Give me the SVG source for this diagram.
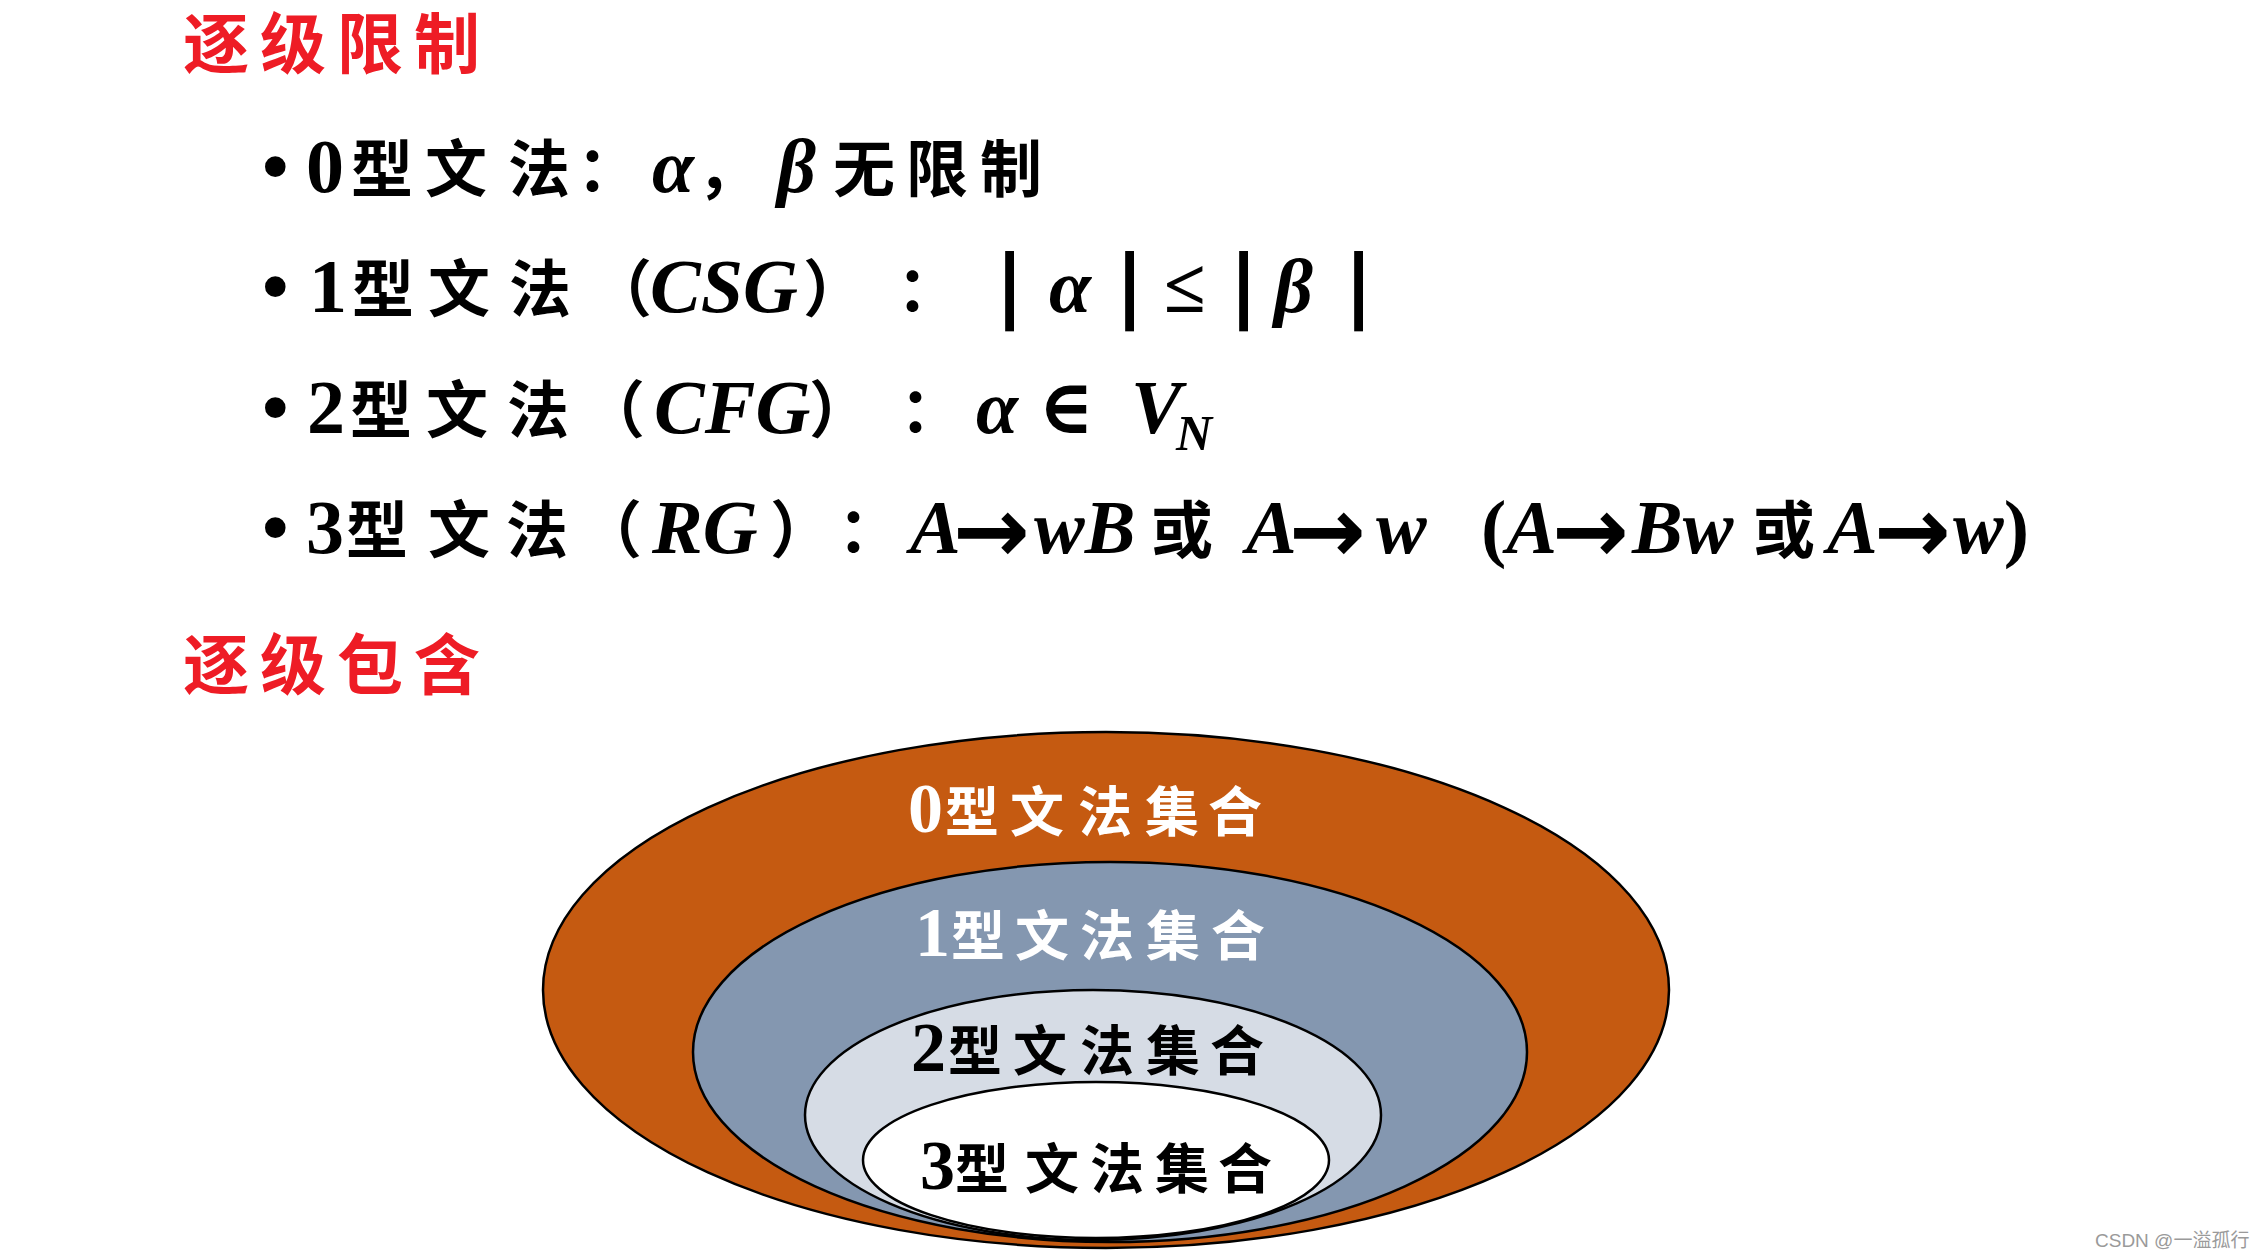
<svg xmlns="http://www.w3.org/2000/svg" width="2262" height="1260" viewBox="0 0 2262 1260">
<style>
.cjk{font-family:"Noto Sans CJK SC","Noto Sans CJK JP",sans-serif;font-weight:700}
.ser{font-family:"Liberation Serif","DejaVu Serif",serif;font-weight:700}
.mi{font-family:"Liberation Serif","DejaVu Serif",serif;font-weight:700;font-style:italic}
.bar{font-family:"DejaVu Sans",sans-serif;font-weight:700;font-size:80px}
.arr{font-family:"DejaVu Sans",sans-serif;font-weight:700;font-size:92px}
.body{font-size:76px;fill:#000}
.body .cjk{font-size:62px}
.title{font-size:66px;fill:#EE1C25}
.set{stroke:#000;stroke-width:2.5}
.lab{font-size:70px}
.lab .cjk{font-size:54px}
.wm{font-family:"Liberation Sans","Noto Sans CJK SC",sans-serif;font-size:19px;fill:#9a9a9a}
</style>
<rect width="2262" height="1260" fill="#fff"/>
<g id="title-restrict">
<text class="title cjk" x="183 260 337 414" y="68">逐级限制</text>
</g>
<g id="rules">
<text id="rule0" class="body" y="192"><tspan class="ser" x="262">•</tspan><tspan class="ser" x="306">0</tspan><tspan class="cjk" x="351 425 508">型文法</tspan><tspan class="cjk" x="577">：</tspan><tspan class="mi" x="652">α</tspan><tspan class="cjk" x="697">，</tspan><tspan class="mi" x="777">β</tspan><tspan class="cjk" x="833 906 980">无限制</tspan></text>
<text id="rule1" class="body" y="312"><tspan class="ser" x="262">•</tspan><tspan class="ser" x="309">1</tspan><tspan class="cjk" x="352 428 509">型文法</tspan><tspan class="cjk" x="590">（</tspan><tspan class="mi" x="650">CSG</tspan><tspan class="cjk" x="803">）</tspan><tspan class="cjk" x="897">：</tspan><tspan class="bar" x="995">|</tspan><tspan class="mi" x="1049">α</tspan><tspan class="bar" x="1115">|</tspan><tspan class="ser" x="1164">≤</tspan><tspan class="bar" x="1229">|</tspan><tspan class="mi" x="1274">β</tspan><tspan class="bar" x="1344">|</tspan></text>
<text id="rule2" class="body" y="433"><tspan class="ser" x="262">•</tspan><tspan class="ser" x="307">2</tspan><tspan class="cjk" x="350 426 507">型文法</tspan><tspan class="cjk" x="583">（</tspan><tspan class="mi" x="654">CFG</tspan><tspan class="cjk" x="809">）</tspan><tspan class="cjk" x="900">：</tspan><tspan class="mi" x="976">α</tspan><tspan class="ser" x="1038">∈</tspan><tspan class="mi" x="1131">V</tspan><tspan class="mi" x="1176" y="450" font-size="50">N</tspan></text>
<text id="rule3" class="body" y="553"><tspan class="ser" x="262">•</tspan><tspan class="ser" x="306">3</tspan><tspan class="cjk" x="346 428 506">型文法</tspan><tspan class="cjk" x="580">（</tspan><tspan class="mi" x="652">RG</tspan><tspan class="cjk" x="770">）</tspan><tspan class="cjk" x="838">：</tspan><tspan class="mi" x="910">A</tspan><tspan class="arr" x="953" y="562">→</tspan><tspan class="mi" x="1034" y="553">wB</tspan><tspan class="cjk" x="1151">或</tspan><tspan class="mi" x="1246">A</tspan><tspan class="arr" x="1289" y="562">→</tspan><tspan class="mi" x="1376" y="553">w</tspan><tspan class="ser" x="1481">(</tspan><tspan class="mi">A</tspan><tspan class="arr" x="1552" y="562">→</tspan><tspan class="mi" x="1632" y="553">Bw</tspan><tspan class="cjk" x="1753">或</tspan><tspan class="mi" x="1827">A</tspan><tspan class="arr" x="1874" y="562">→</tspan><tspan class="mi" x="1953" y="553">w</tspan><tspan class="ser">)</tspan></text>
</g>
<g id="title-contain">
<text class="title cjk" x="183 260 337 414" y="689">逐级包含</text>
</g>
<g id="set0">
<ellipse class="set" cx="1106" cy="990" rx="563" ry="258" fill="#C55A11"/>
<text class="lab" fill="#fff" y="832"><tspan class="ser" x="908">0</tspan><tspan class="cjk" x="945 1010 1078 1145 1208">型文法集合</tspan></text>
</g>
<g id="set1">
<ellipse class="set" cx="1110" cy="1052" rx="417" ry="190" fill="#8497B0"/>
<text class="lab" fill="#fff" y="956"><tspan class="ser" x="915">1</tspan><tspan class="cjk" x="951 1015 1080 1146 1211">型文法集合</tspan></text>
</g>
<g id="set2">
<ellipse class="set" cx="1093" cy="1115" rx="288" ry="125" fill="#D6DCE5"/>
<text class="lab" fill="#000" y="1071"><tspan class="ser" x="911">2</tspan><tspan class="cjk" x="948 1013 1080 1146 1210">型文法集合</tspan></text>
</g>
<g id="set3">
<ellipse class="set" cx="1096" cy="1160" rx="233" ry="78" fill="#FFFFFF"/>
<text class="lab" fill="#000" y="1189"><tspan class="ser" x="920">3</tspan><tspan class="cjk" x="955 1025 1090 1155 1218">型文法集合</tspan></text>
</g>
<g id="connectors"/>
<text class="wm" x="2095" y="1247">CSDN @一溢孤行</text>
</svg>
